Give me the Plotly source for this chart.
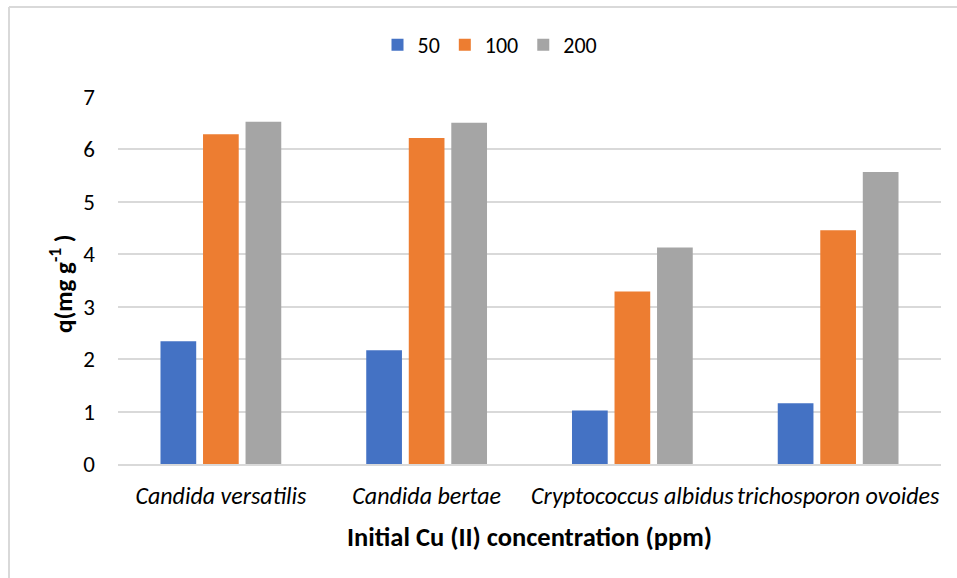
import plotly.graph_objects as go

# Biosorption capacity q (mg/g) of four yeast strains at three initial Cu(II) concentrations
species = ["Candida versatilis", "Candida bertae", "Cryptococcus albidus", "trichosporon ovoides"]
conc_labels = ["50", "100", "200"]
q_50 = [2.34, 2.17, 1.02, 1.16]
q_100 = [6.29, 6.22, 3.29, 4.46]
q_200 = [6.53, 6.51, 4.13, 5.57]
y_ticks = [0, 1, 2, 3, 4, 5, 6, 7]

colors = ["#4472C4", "#ED7D31", "#A5A5A5"]
series = [q_50, q_100, q_200]

W, H = 957, 578
ML, MR, MT, MB = 118, 16, 97, 114
pw, ph = W - ML - MR, H - MT - MB

def px_x(x):
    return (x - ML) / pw

def px_y(y):
    return (H - MB - y) / ph

FONT = "Carlito, 'Open Sans', sans-serif"

fig = go.Figure()
for name, vals, col in zip(conc_labels, series, colors):
    fig.add_trace(go.Bar(
        x=[f"<i>{s}</i>" for s in species],
        y=vals,
        name=name,
        marker=dict(color=col, line=dict(width=0)),
    ))

fig.update_layout(
    width=W, height=H,
    margin=dict(l=ML, r=MR, t=MT, b=MB),
    paper_bgcolor="white", plot_bgcolor="white",
    barmode="group", bargap=0.38, bargroupgap=0.16,
    font=dict(family=FONT, size=22, color="#000000"),
    legend=dict(
        orientation="h", x=px_x(490), y=px_y(45),
        xanchor="center", yanchor="middle",
        font=dict(size=22), itemwidth=30, traceorder="normal",
    ),
    shapes=[
        # chart frame (top and left edges visible)
        dict(type="line", xref="paper", yref="paper",
             x0=px_x(9), x1=px_x(W + 5), y0=px_y(7), y1=px_y(7),
             line=dict(color="#D9D9D9", width=2)),
        dict(type="line", xref="paper", yref="paper",
             x0=px_x(9), x1=px_x(9), y0=px_y(7), y1=px_y(H + 5),
             line=dict(color="#D9D9D9", width=2)),
    ],
    annotations=[
        # y-axis title
        dict(text="<b>q(mg g<sup>-1</sup> )</b>", xref="paper", yref="paper",
             x=px_x(61), y=px_y(283), xanchor="center", yanchor="middle",
             textangle=-90, showarrow=False, font=dict(size=25)),
    ],
)

fig.update_xaxes(
    showgrid=False, showline=True, linecolor="#D9D9D9", linewidth=1.5,
    ticks="", tickfont=dict(size=24), ticklabelstandoff=9, tickangle=0,
    title=dict(text="<b>Initial Cu (II) concentration (ppm)</b>",
               font=dict(size=26.5), standoff=19),
)
fig.update_yaxes(
    range=[0, 7], tickvals=y_ticks, showgrid=True, gridcolor="#D9D9D9", gridwidth=1.5,
    zeroline=False, showline=False, ticks="", tickfont=dict(size=23),
    ticklabelstandoff=22,
)

fig.write_html("out.html")
